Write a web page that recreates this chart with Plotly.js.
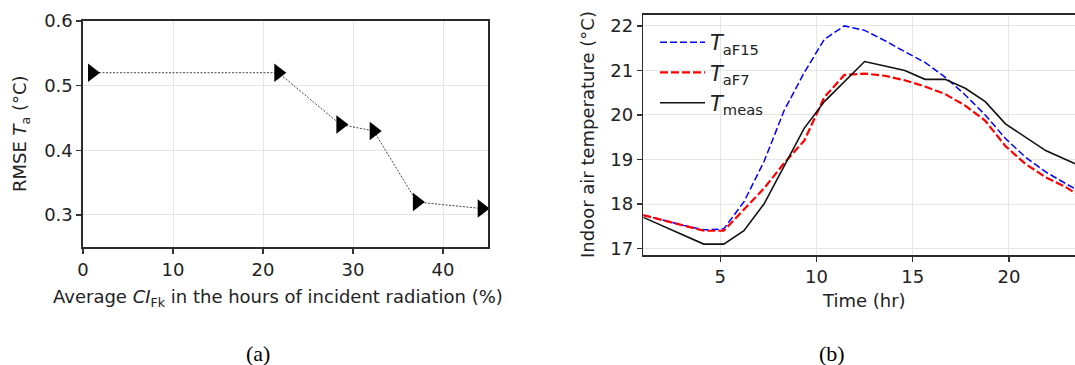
<!DOCTYPE html>
<html>
<head>
<meta charset="utf-8">
<script src="https://cdn.plot.ly/plotly-3.0.1.min.js"></script>
<style>
html, body { margin: 0; padding: 0; overflow: hidden; background: #fff; }
#chart { width: 1100px; height: 365px; }
</style>
</head>
<body>
<div id="chart"></div>
<script>
// Panel (a): RMSE vs average CI_Fk
const cfk = [1.0, 21.7, 28.6, 32.3, 37.1, 44.3];
const rmse = [0.52, 0.52, 0.44, 0.43, 0.32, 0.31];

// Panel (b): indoor air temperature over time
const hours = [1, 2.05, 3.09, 4.14, 5.18, 6.23, 7.27, 8.32, 9.36, 10.41, 11.45, 12.5,
               13.55, 14.59, 15.64, 16.68, 17.73, 18.77, 19.82, 20.86, 21.91, 22.95, 24];
const tAF15 = [17.75, 17.63, 17.52, 17.42, 17.44, 18.05, 18.95, 20.1, 20.95, 21.7, 22.0, 21.9,
               21.67, 21.42, 21.18, 20.85, 20.45, 20.0, 19.47, 19.05, 18.72, 18.46, 18.2];
const tAF7 = [17.75, 17.63, 17.52, 17.4, 17.4, 17.88, 18.35, 18.92, 19.42, 20.4, 20.9, 20.93,
              20.88, 20.78, 20.64, 20.47, 20.21, 19.87, 19.3, 18.9, 18.6, 18.38, 18.1];
const tMeas = [17.7, 17.5, 17.3, 17.1, 17.1, 17.4, 18.0, 18.85, 19.7, 20.3, 20.75, 21.2,
               21.1, 21.0, 20.8, 20.8, 20.6, 20.3, 19.8, 19.5, 19.2, 19.0, 18.8];

const seriesNames = ['<i>T</i><sub>aF15</sub>', '<i>T</i><sub>aF7</sub>', '<i>T</i><sub>meas</sub>'];
const xTicksA = [0, 10, 20, 30, 40];
const yTicksA = [0.3, 0.4, 0.5, 0.6];
const xTicksB = [5, 10, 15, 20];
const yTicksB = [17, 18, 19, 20, 21, 22];

const W = 1100, H = 365;
const px = v => v / W;
const py = v => 1 - v / H;

const FONT = 'DejaVu Sans, sans-serif';
const axisCommon = {
  showline: true, linecolor: '#2b2b2b', linewidth: 1.6, mirror: true,
  ticks: 'outside', ticklen: 5, tickwidth: 1.2, tickcolor: '#333',
  showgrid: true, gridcolor: '#e6e6e6', gridwidth: 1,
  zeroline: false, tickfont: {family: FONT, size: 18, color: '#222'},
  tickmode: 'array'
};

const traces = [
  {x: cfk, y: rmse, xaxis: 'x', yaxis: 'y', type: 'scatter', mode: 'lines+markers',
   line: {color: '#444', width: 1, dash: '2px,1.5px'},
   marker: {symbol: 'triangle-right', size: 16, color: '#000'},
   showlegend: false},
  {x: hours, y: tAF15, xaxis: 'x2', yaxis: 'y2', type: 'scatter', mode: 'lines',
   name: seriesNames[0], line: {color: '#0000ff', width: 1.5, dash: '7px,3px'}},
  {x: hours, y: tAF7, xaxis: 'x2', yaxis: 'y2', type: 'scatter', mode: 'lines',
   name: seriesNames[1], line: {color: '#ff0000', width: 2.2, dash: '8px,3px'}},
  {x: hours, y: tMeas, xaxis: 'x2', yaxis: 'y2', type: 'scatter', mode: 'lines',
   name: seriesNames[2], line: {color: '#111', width: 1.6}}
];

const layout = {
  width: W, height: H,
  margin: {l: 0, r: 0, t: 0, b: 0},
  paper_bgcolor: '#fff', plot_bgcolor: '#fff',
  font: {family: FONT, size: 18, color: '#222'},
  xaxis: Object.assign({}, axisCommon, {domain: [px(83), px(488)], range: [0, 45],
    tickvals: xTicksA, ticktext: xTicksA.map(String), anchor: 'y'}),
  yaxis: Object.assign({}, axisCommon, {domain: [py(247.3), py(21)], range: [0.25, 0.6],
    tickvals: yTicksA, ticktext: yTicksA.map(v => v.toFixed(1)), anchor: 'x'}),
  xaxis2: Object.assign({}, axisCommon, {domain: [px(643.3), px(1085.9)], range: [1, 24],
    tickvals: xTicksB, ticktext: xTicksB.map(String), anchor: 'y2'}),
  yaxis2: Object.assign({}, axisCommon, {domain: [py(255), py(15)], range: [16.855, 22.245],
    tickvals: yTicksB, ticktext: yTicksB.map(String), anchor: 'x2'}),
  legend: {x: px(655), y: py(22), xanchor: 'left', yanchor: 'top', itemwidth: 45,
    bgcolor: 'rgba(0,0,0,0)', font: {family: FONT, size: 21, color: '#222'},
    tracegroupgap: 0},
  annotations: [
    {text: 'Average <i>CI</i><sub>Fk</sub> in the hours of incident radiation (%)',
     xref: 'paper', yref: 'paper', x: px(278), y: py(298), xanchor: 'center', yanchor: 'middle',
     showarrow: false, font: {family: FONT, size: 18, color: '#222'}},
    {text: 'RMSE <i>T</i><sub>a</sub> (°C)', textangle: -90,
     xref: 'paper', yref: 'paper', x: px(21), y: py(134), xanchor: 'center', yanchor: 'middle',
     showarrow: false, font: {family: FONT, size: 18, color: '#222'}},
    {text: 'Time (hr)',
     xref: 'paper', yref: 'paper', x: px(864), y: py(300), xanchor: 'center', yanchor: 'middle',
     showarrow: false, font: {family: FONT, size: 18, color: '#222'}},
    {text: 'Indoor air temperature (°C)', textangle: -90,
     xref: 'paper', yref: 'paper', x: px(588), y: py(135), xanchor: 'center', yanchor: 'middle',
     showarrow: false, font: {family: FONT, size: 18, color: '#222'}},
    {text: '(a)', xref: 'paper', yref: 'paper', x: px(258), y: py(353), xanchor: 'center', yanchor: 'middle',
     showarrow: false, font: {family: 'Liberation Serif, serif', size: 22, color: '#000'}},
    {text: '(b)', xref: 'paper', yref: 'paper', x: px(832), y: py(353), xanchor: 'center', yanchor: 'middle',
     showarrow: false, font: {family: 'Liberation Serif, serif', size: 22, color: '#000'}}
  ]
};

Plotly.newPlot('chart', traces, layout, {displayModeBar: false, staticPlot: true});
</script>
</body>
</html>
